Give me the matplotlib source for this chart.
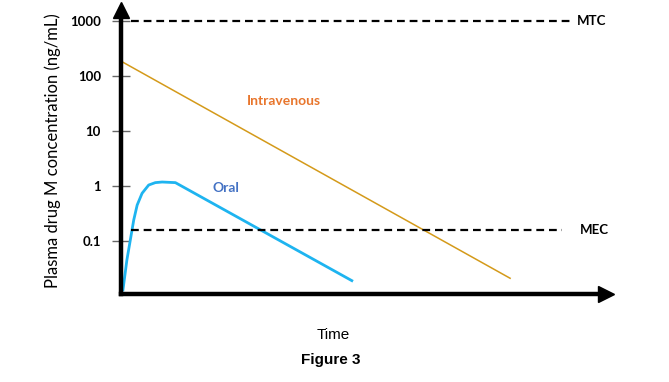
import numpy as np
import matplotlib.pyplot as plt

# 数据（对数坐标）
iv_time = [0.0, 7.94]
iv_conc = [186, 0.021]

oral_time = [0.04, 0.12, 0.19, 0.26, 0.33, 0.43, 0.565, 0.70, 0.84, 1.11, 4.71]
oral_conc = [0.0129, 0.045, 0.104, 0.241, 0.45, 0.736, 1.04, 1.15, 1.18, 1.15, 0.019]

mtc = 1000
mec = 0.16
y_ticks = [1000, 100, 10, 1, 0.1]
y_ticklabels = ['1000', '100', '10', '1', '0.1']

plt.rcParams['font.family'] = ['Lato', 'DejaVu Sans']

fig = plt.figure(figsize=(6.69, 3.82), dpi=100)
W, H = 669, 382
ax = fig.add_axes([121 / W, (H - 294) / H, (613 - 121) / W, (294 - 2) / H])

ax.set_yscale('log')
ax.set_xlim(0, 10.04)
ax.set_ylim(0.01086, 2213)

# 曲线
ax.plot(iv_time, iv_conc, color='#D49A1A', lw=1.1, clip_on=False)
ax.plot(oral_time, oral_conc, color='#1EB4F0', lw=2.0, clip_on=False,
        solid_joinstyle='round')

# MTC / MEC 虚线
ax.plot([0.2, 9.2], [mtc, mtc], color='black', lw=1.6, dashes=(3.5, 2.2))
ax.plot([0.2, 9.0], [mec, mec], color='black', lw=1.6, dashes=(3.5, 2.2))
ax.text(9.3, mtc, 'MTC', fontsize=9.5, fontweight='bold', va='center', ha='left')
ax.text(9.37, mec, 'MEC', fontsize=9.5, fontweight='bold', va='center', ha='left')

# 标签
ax.text(3.33, 35, 'Intravenous', color='#E8762D', fontsize=10,
        fontweight='bold', ha='center', va='center')
ax.text(2.14, 0.92, 'Oral', color='#4472C4', fontsize=10,
        fontweight='bold', ha='center', va='center')

# 坐标轴和箭头
for s in ['top', 'right']:
    ax.spines[s].set_visible(False)
for s in ['left', 'bottom']:
    ax.spines[s].set_linewidth(3.2)
ax.spines['bottom'].set_bounds(0, 9.9)
ax.spines['left'].set_bounds(0.01086, 1600)
ax.plot(1 - 7.5 / 492, 0, '>', color='black', ms=11,
        transform=ax.transAxes, clip_on=False)
ax.plot(0, 1 - 7.5 / 292, '^', color='black', ms=11,
        transform=ax.transAxes, clip_on=False)

ax.set_xticks([])
ax.set_yticks(y_ticks)
ax.set_yticklabels(y_ticklabels, fontweight='bold', fontsize=9.5)
ax.yaxis.set_minor_locator(plt.NullLocator())
ax.tick_params(axis='y', direction='inout', length=13, width=1,
               color='#666666', pad=8)

ax.set_ylabel('Plasma drug M concentration (ng/mL)', fontsize=12)
ax.yaxis.set_label_coords(-60 / 492, 0.49)

fig.text(333 / W, 1 - 335 / H, 'Time', fontsize=11, ha='center', va='center',
         family=['Liberation Sans'])
fig.text(331 / W, 1 - 360 / H, 'Figure 3', fontsize=11, fontweight='bold',
         ha='center', va='center', family=['Liberation Sans'])

plt.savefig('out.png', dpi=100)
